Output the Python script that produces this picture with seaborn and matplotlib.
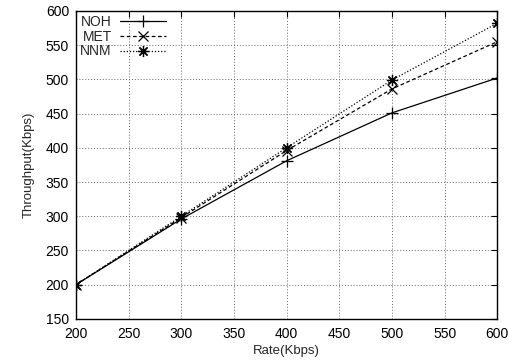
import matplotlib
matplotlib.use("Agg")
import matplotlib.pyplot as plt
import seaborn as sns
import pandas as pd

rates = [200, 300, 400, 500, 600]
noh = [200, 296, 381, 451, 502]
met = [200, 298, 396, 486, 555]
nnm = [200, 300, 400, 499, 582]
series_names = ["NOH", "MET", "NNM"]
x_ticks = [200, 250, 300, 350, 400, 450, 500, 550, 600]
y_ticks = [150, 200, 250, 300, 350, 400, 450, 500, 550, 600]

sns.set_theme(style="white")
plt.rcParams['font.family'] = ['Liberation Sans', 'DejaVu Sans']

fig = plt.figure(figsize=(5.1, 3.64), dpi=100)
ax = fig.add_axes([0.149, 0.124, 0.826, 0.846])

styles = {
    "NOH": dict(linestyle="-", marker="+", markersize=8),
    "MET": dict(linestyle=(0, (3, 2)), marker="x", markersize=6.5),
    "NNM": dict(linestyle=(0, (1, 1.5)), marker=(8, 2, 0), markersize=8),
}
for name, vals in zip(series_names, [noh, met, nnm]):
    df = pd.DataFrame({"Rate": rates, "Throughput": vals})
    st = styles[name]
    sns.lineplot(data=df, x="Rate", y="Throughput", ax=ax, color="black",
                 linewidth=0.9, linestyle=st["linestyle"], marker=st["marker"],
                 markersize=st["markersize"], markeredgewidth=0.9,
                 markeredgecolor="black", label=name)

ax.set_xlim(200, 600)
ax.set_ylim(150, 600)
ax.set_xticks(x_ticks)
ax.set_yticks(y_ticks)
ax.grid(True, color="#666666", linestyle=(0, (1, 2)), linewidth=0.7)
for s in ax.spines.values():
    s.set_color("black")
    s.set_linewidth(1.0)
ax.tick_params(direction="in", length=4, width=0.8, top=True, right=True,
               labelsize=10, colors="black", pad=5)
ax.tick_params(axis="x", pad=6)
ax.set_xlabel("Rate(Kbps)", fontsize=9.5, labelpad=3)
ax.set_ylabel("Throughput(Kbps)", fontsize=9.5, labelpad=8)

leg = ax.legend(loc="upper left", frameon=False, markerfirst=False,
                handlelength=3.3, labelspacing=0.05, borderaxespad=0.1,
                borderpad=0.2, handletextpad=0.6, fontsize=10)

fig.savefig("out.png", dpi=100)
